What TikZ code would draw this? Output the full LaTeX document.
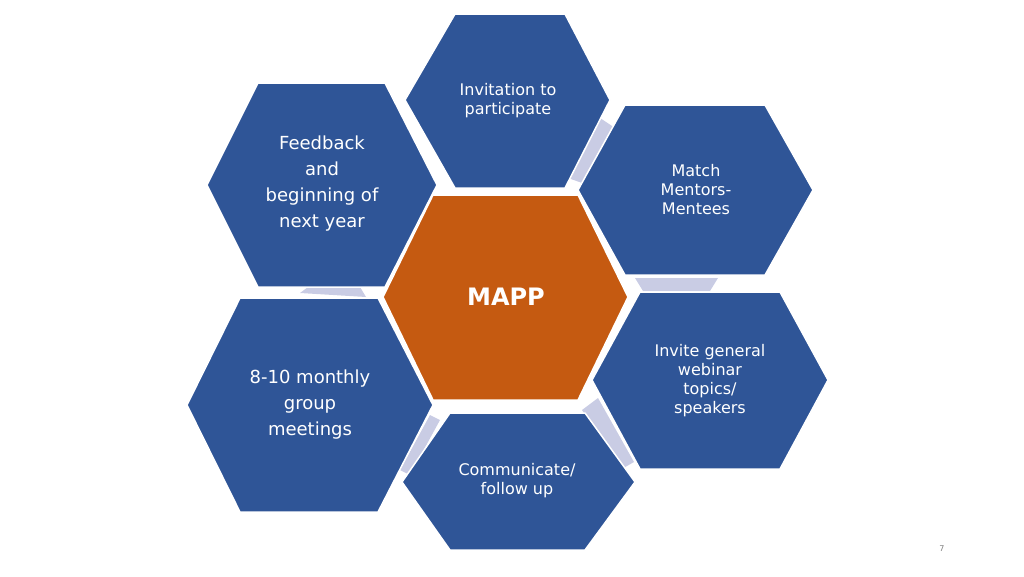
\documentclass[tikz,border=0pt]{standalone}
\usepackage{fontspec}
\setmainfont{DejaVu Sans}
\definecolor{hblue}{HTML}{2F5597}
\definecolor{horange}{HTML}{C55A11}
\definecolor{hlav}{HTML}{C9CCE4}
\begin{document}
\begin{tikzpicture}[x=1pt,y=-1pt,
  hexb/.style={fill=hblue,draw=white,line width=1.5pt},
  hexo/.style={fill=horange,draw=white,line width=1.5pt},
  link/.style={fill=hlav},
  lbl/.style={text=white,align=center,font=\fontsize{16}{19}\selectfont}]
\useasboundingbox (0,0) rectangle (1024,576);
% links
\fill[link] (568,178)--(600,118)--(615,128)--(585,184)--cycle;
\fill[link] (635,278)--(718,278)--(710,291)--(643,291)--cycle;
\fill[link] (582,410)--(598,398)--(634,462)--(620,470)--cycle;
\fill[link] (400,470)--(430,415)--(440,420)--(410,475)--cycle;
\fill[link] (300,293)--(308,287)--(360,287)--(366,297)--cycle;
% hexagons
\fill[hexb] (405,100)--(455,14)--(565,14)--(610,100)--(565,188)--(455,188)--cycle;
\fill[hexb] (578,190)--(625,105)--(765,105)--(813,190)--(765,275)--(625,275)--cycle;
\fill[hexb] (207,185)--(258,83)--(385,83)--(437,185)--(385,287)--(258,287)--cycle;
\fill[hexb] (187,405)--(240,298)--(378,298)--(433,405)--(378,512)--(240,512)--cycle;
\fill[hexb] (402,482)--(450,413)--(585,413)--(635,482)--(585,550)--(450,550)--cycle;
\fill[hexb] (592,380)--(640,292)--(780,292)--(828,380)--(780,469)--(640,469)--cycle;
\fill[hexo] (383,297)--(433,195)--(578,195)--(628,297)--(578,400)--(433,400)--cycle;
% labels
\node[lbl] (inv) at (508,101) {Invitation to\\participate};
\node[lbl] (match) at (696,190) {Match\\Mentors-\\Mentees};
\node[lbl,font=\fontsize{18}{26}\selectfont] (fb) at (322,184) {Feedback\\and\\beginning of\\next year};
\node[text=white,font=\bfseries\fontsize{24}{28}\selectfont] (mapp) at (506,297) {MAPP};
\node[lbl,font=\fontsize{18}{26}\selectfont] (mon) at (310,405) {8-10 monthly\\group\\meetings};
\node[lbl] (com) at (517,481) {Communicate/\\follow up};
\node[lbl] (web) at (710,381) {Invite general\\webinar\\topics/\\speakers};
\node[text=gray,font=\fontsize{8}{10}\selectfont] (pg) at (942,549) {7};
\end{tikzpicture}
\end{document}
